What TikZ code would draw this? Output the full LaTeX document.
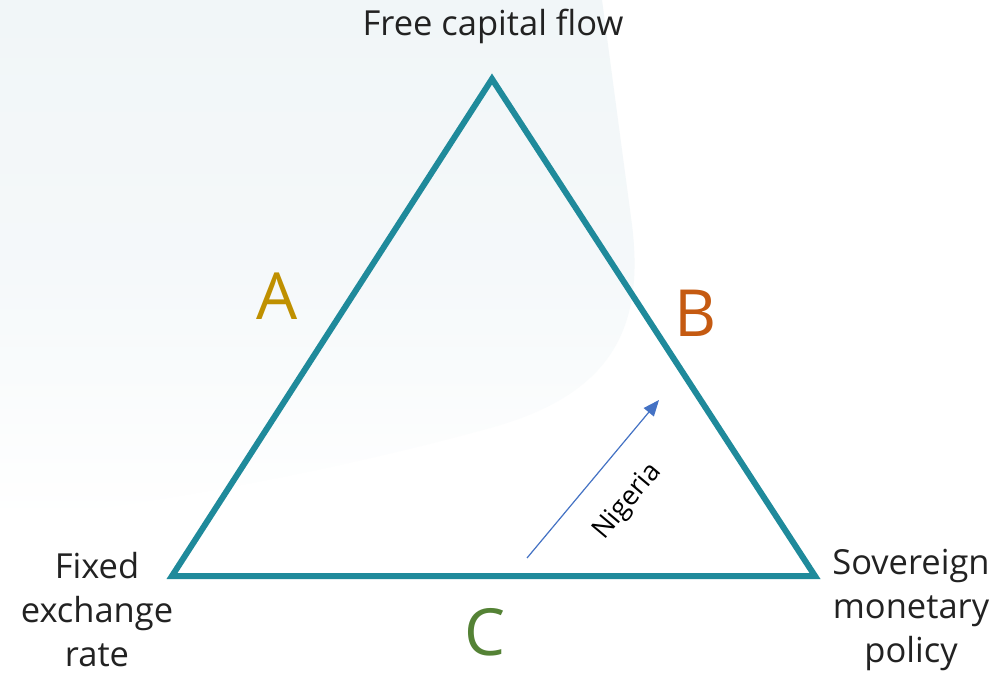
\documentclass[tikz,border=0pt]{standalone}
\usepackage{fontspec}
\setmainfont{Open Sans}
\usetikzlibrary{arrows.meta}
\definecolor{teal1}{HTML}{1F8A9B}
\definecolor{txt}{HTML}{222222}
\definecolor{colA}{HTML}{BF9000}
\definecolor{colB}{HTML}{C55A11}
\definecolor{colC}{HTML}{548235}
\definecolor{arr}{HTML}{4472C4}
\definecolor{bgA}{HTML}{F1F6F8}
\tikzset{
  corner/.style={font=\fontsize{34.5}{44}\selectfont, text=txt, align=center, inner sep=0pt},
  side/.style={font=\fontsize{65}{70}\selectfont, inner sep=0pt},
  edge/.style={draw=teal1, line width=6pt, line join=miter},
  move/.style={draw=arr, line width=1.2pt, -{Triangle[length=16pt,width=13pt]}},
}
\begin{document}
\begin{tikzpicture}[x=1pt,y=-1pt]
\useasboundingbox (0,0) rectangle (998,674);
\fill[white] (0,0) rectangle (998,674);
% faint background shape
\shade[top color=bgA, bottom color=white, middle color=bgA!75!white]
  (0,0) -- (602,0) -- (632,225) .. controls (645,330) and (610,395) .. (490,428)
  .. controls (330,472) and (150,505) .. (0,520) -- cycle;
% vertices
\coordinate (T) at (492,79);
\coordinate (L) at (172,576);
\coordinate (R) at (815,576);
\draw[edge] (T) -- (L) -- (R) -- cycle;
% corner labels
\node[corner] (top) at (493,26) {Free capital flow};
\node[corner] (left) at (97,610) {Fixed\\exchange\\rate};
\node[corner] (right) at (911,610) {Sovereign\\monetary\\policy};
% side labels
\node[side, text=colA] (A) at (277,296) {A};
\node[side, text=colB] (B) at (696,313) {B};
\node[side, text=colC] (C) at (485,632) {C};
% Nigeria arrow
\coordinate (n0) at (527,558);
\coordinate (n1) at (659,400);
\draw[move] (n0) -- (n1);
\node[font=\fontsize{27}{30}\selectfont, text=black, rotate=50, inner sep=0pt] (nig) at (628,502) {Nigeria};
\end{tikzpicture}
\end{document}
